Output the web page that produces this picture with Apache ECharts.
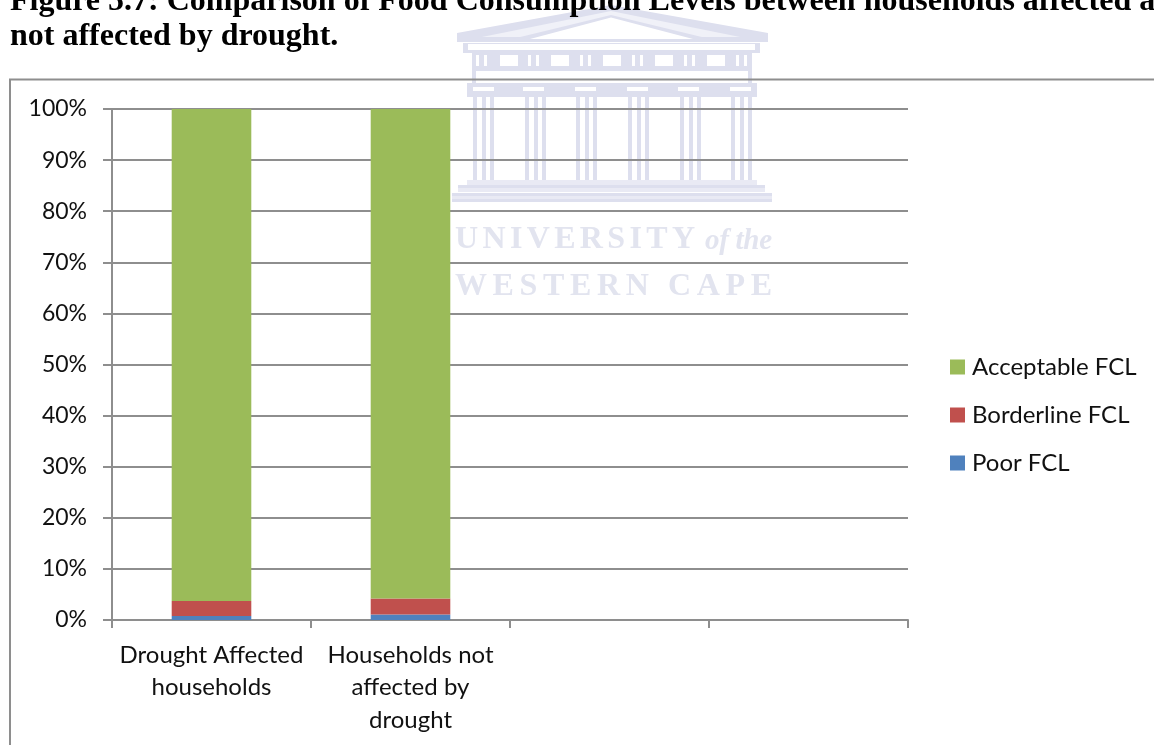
<!DOCTYPE html>
<html><head><meta charset="utf-8">
<style>html,body{margin:0;padding:0;background:#fff;overflow:hidden}#c{width:1154px;height:745px}</style>
<script src="https://cdn.jsdelivr.net/npm/echarts@6/dist/echarts.min.js"></script>
</head><body><div id="c"></div>
<script>
const categories = ['Drought Affected\nhouseholds', 'Households not\naffected by\ndrought', '', ''];
const poor = [0.8, 1.1, null, null];
const borderline = [2.9, 3.1, null, null];
const acceptable = [96.3, 95.8, null, null];
const yTicks = [0,10,20,30,40,50,60,70,80,90,100];
const titleLines = ['Figure 5.7: Comparison of Food Consumption Levels between households affected and','not affected by drought.'];
const AX='#8e8e8e', LOGO='#dddfee', LOGO2='#e9eaf4', FONT='Lato, Carlito, sans-serif', WM='#e2e4ef';

const g=[];
const rect=(x,y,w,h,fill)=>g.push({type:'rect',z:-5,silent:true,shape:{x,y,width:w,height:h},style:{fill}});
const poly=(points,fill)=>g.push({type:'polygon',z:-5,silent:true,shape:{points},style:{fill}});
const ctx=document.createElement('canvas').getContext('2d');
// watermark lettering: spread the letters across a span
const spaced=(text,font,x0,x1,y)=>{
  ctx.font=font;
  const total=[...text].reduce((s,c)=>s+ctx.measureText(c).width,0);
  const gap=(x1-x0-total)/(text.length-1);
  let x=x0;
  for(const c of text){
    if(c!==' ')g.push({type:'text',z:-5,silent:true,x,y,style:{text:c,font,fill:WM,verticalAlign:'bottom'}});
    x+=ctx.measureText(c).width+gap;
  }
};
// watermark crest
poly([[457,33],[611,5],[768,33],[768,42],[457,42]],LOGO);
poly([[482,37],[611,11],[740,37]],'#f0f1f8');
poly([[512,39],[611,15],[710,39]],LOGO);
poly([[530,39],[611,17.5],[693,39]],'#ffffff');
rect(463,43,297,10,LOGO); rect(468,44,287,6,'#ffffff');
rect(472,53,280,18,LOGO);
[500,551,603,655,707].forEach(x=>rect(x,55,18,11,'#ffffff'));
[476,528,580,632,684,736].forEach(x=>{rect(x,55,3,11,'#fff');rect(x+8,55,3,11,'#fff');});
rect(472,71,4,12,LOGO); rect(748,71,4,12,LOGO);
rect(467,83,290,14,LOGO);
[473,523,575,627,678,730].forEach(x=>rect(x,87,21,4,'#ffffff'));
[473,525,576,628,680,731].forEach(x=>[0,9,17].forEach(d=>rect(x+d,97,4,83,LOGO)));
rect(467,180,290,5,LOGO2);rect(458,185,307,3,LOGO);rect(458,188,307,4,LOGO2);
rect(452,193,320,3,LOGO);rect(452,196,320,3,LOGO2);rect(452,199,320,3,LOGO);
spaced('UNIVERSITY','bold 32px "Liberation Serif"',455,695,256);
spaced('of the','italic bold 29px "Liberation Serif"',705,772,256);
spaced('WESTERN CAPE','bold 32px "Liberation Serif"',455,772,303);
// page title
g.push({type:'text',x:10,y:18,style:{text:titleLines[0],font:'bold 32px "Liberation Serif"',fill:'#000',verticalAlign:'bottom'}});
g.push({type:'text',x:10,y:53,style:{text:titleLines[1],font:'bold 32px "Liberation Serif"',fill:'#000',verticalAlign:'bottom'}});
// chart frame
g.push({type:'polyline',z:1,silent:true,shape:{points:[[10,760],[10,79.5],[1170,79.5]]},style:{stroke:AX,lineWidth:2,fill:null}});

const bar=(name,data,color)=>({name,type:'bar',stack:'t',data,barWidth:'40%',itemStyle:{color}});
const chart=echarts.init(document.getElementById('c'),null,{renderer:'canvas'});
chart.setOption({
  animation:false,backgroundColor:'#fff',
  grid:{left:112,right:246,top:109,bottom:125,containLabel:false},
  legend:{orient:'vertical',left:945,top:350,itemWidth:15,itemHeight:15,itemGap:24,icon:'rect',selectedMode:false,
    data:['Acceptable FCL','Borderline FCL','Poor FCL'],
    textStyle:{fontFamily:FONT,fontSize:24,color:'#111',padding:[0,0,0,2]}},
  xAxis:{type:'category',data:categories,
    axisLine:{lineStyle:{color:AX,width:2}},
    axisTick:{show:true,length:8,lineStyle:{color:AX,width:2}},
    axisLabel:{interval:0,margin:19,fontFamily:FONT,fontSize:24,color:'#111',lineHeight:32.5}},
  yAxis:{type:'value',min:0,max:100,interval:10,
    axisLine:{show:true,lineStyle:{color:AX,width:2}},
    axisTick:{show:true,length:9,lineStyle:{color:AX,width:2}},
    splitLine:{show:true,lineStyle:{color:AX,width:2}},
    axisLabel:{margin:25,fontFamily:FONT,fontSize:23,color:'#111',
      customValues:yTicks,formatter:v=>v+'%'}},
  series:[bar('Poor FCL',poor,'#4F81BD'),bar('Borderline FCL',borderline,'#C0504D'),bar('Acceptable FCL',acceptable,'#9BBB59')],
  graphic:{elements:g}
});
</script></body></html>
